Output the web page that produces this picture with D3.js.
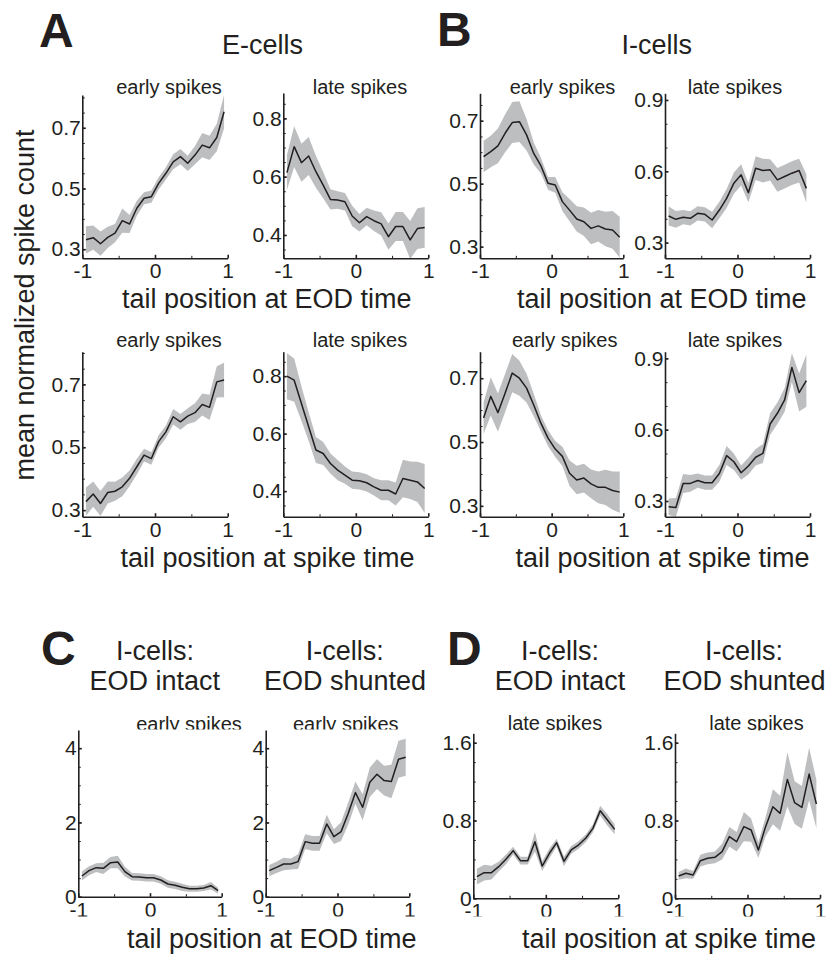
<!DOCTYPE html>
<html>
<head>
<meta charset="utf-8">
<script src="https://cdn.jsdelivr.net/npm/d3@7"></script>
<style>
  body { margin: 0; background: #fff; }
  svg { display: block; }
  text { font-family: "Liberation Sans", Arial, sans-serif; fill: #231f20; }
</style>
</head>
<body>
<svg id="chart" width="836" height="955"></svg>
<script>
// tail position bins (centres)
const tailPos = [-0.95,-0.85,-0.75,-0.65,-0.55,-0.45,-0.35,-0.25,-0.15,-0.05,0.05,0.15,0.25,0.35,0.45,0.55,0.65,0.75,0.85,0.95];

// A: E-cells, tail position at EOD time
const eEarlyEod    = [0.331,0.338,0.318,0.339,0.353,0.394,0.383,0.435,0.468,0.473,0.517,0.550,0.588,0.605,0.583,0.610,0.643,0.634,0.668,0.753];
const eEarlyEodSem = [0.045,0.04,0.04,0.035,0.03,0.04,0.03,0.025,0.02,0.02,0.02,0.02,0.025,0.025,0.025,0.03,0.04,0.04,0.045,0.055];
const eLateEod     = [0.614,0.703,0.648,0.671,0.617,0.571,0.522,0.520,0.514,0.465,0.442,0.463,0.449,0.438,0.394,0.429,0.429,0.383,0.422,0.426];
const eLateEodSem  = [0.06,0.07,0.065,0.065,0.055,0.045,0.035,0.03,0.03,0.035,0.03,0.03,0.035,0.04,0.045,0.05,0.05,0.065,0.07,0.07];

// B: I-cells, tail position at EOD time
const iEarlyEod    = [0.586,0.602,0.620,0.660,0.694,0.697,0.655,0.596,0.557,0.501,0.496,0.443,0.416,0.388,0.379,0.358,0.366,0.356,0.353,0.330];
const iEarlyEodSem = [0.05,0.05,0.055,0.06,0.065,0.065,0.05,0.035,0.025,0.02,0.025,0.03,0.035,0.04,0.045,0.05,0.05,0.055,0.06,0.065];
const iLateEod     = [0.412,0.398,0.407,0.402,0.423,0.419,0.395,0.437,0.486,0.550,0.585,0.510,0.613,0.603,0.606,0.564,0.578,0.592,0.603,0.528];
const iLateEodSem  = [0.04,0.035,0.03,0.03,0.03,0.03,0.035,0.035,0.04,0.045,0.045,0.04,0.05,0.05,0.045,0.05,0.05,0.05,0.05,0.06];

// A: E-cells, tail position at spike time
const eEarlySpike    = [0.327,0.351,0.321,0.356,0.360,0.374,0.401,0.438,0.475,0.464,0.518,0.549,0.597,0.581,0.599,0.610,0.636,0.627,0.708,0.714];
const eEarlySpikeSem = [0.045,0.04,0.04,0.035,0.03,0.03,0.025,0.025,0.02,0.02,0.02,0.02,0.025,0.025,0.025,0.03,0.035,0.04,0.05,0.055];
const eLateSpike     = [0.800,0.786,0.705,0.624,0.543,0.531,0.496,0.473,0.456,0.438,0.436,0.429,0.415,0.403,0.403,0.390,0.444,0.438,0.432,0.409];
const eLateSpikeSem  = [0.08,0.075,0.06,0.05,0.045,0.04,0.035,0.035,0.03,0.03,0.03,0.03,0.03,0.035,0.035,0.04,0.065,0.065,0.07,0.085];

// B: I-cells, tail position at spike time
const iEarlySpike    = [0.575,0.643,0.592,0.653,0.716,0.700,0.669,0.616,0.559,0.512,0.478,0.455,0.402,0.381,0.387,0.369,0.358,0.358,0.348,0.343];
const iEarlySpikeSem = [0.05,0.06,0.06,0.06,0.06,0.055,0.045,0.035,0.025,0.025,0.025,0.03,0.04,0.045,0.045,0.045,0.05,0.055,0.06,0.065];
const iLateSpike     = [0.276,0.273,0.374,0.374,0.386,0.377,0.377,0.416,0.491,0.465,0.419,0.447,0.484,0.500,0.624,0.669,0.725,0.862,0.756,0.806];
const iLateSpikeSem  = [0.035,0.04,0.04,0.035,0.03,0.03,0.03,0.035,0.04,0.035,0.03,0.035,0.035,0.04,0.045,0.045,0.05,0.06,0.08,0.11];

// C: I-cells early spikes vs tail at EOD time, intact / shunted
const intactEarlyEod     = [0.557,0.701,0.782,0.764,0.917,0.935,0.674,0.539,0.530,0.512,0.512,0.449,0.342,0.306,0.252,0.216,0.216,0.234,0.297,0.162];
const intactEarlyEodSem  = [0.12,0.12,0.12,0.15,0.15,0.17,0.13,0.1,0.1,0.1,0.1,0.1,0.1,0.1,0.1,0.08,0.08,0.08,0.1,0.08];
const shuntedEarlyEod    = [0.701,0.791,0.881,0.881,0.944,1.483,1.438,1.438,1.960,1.618,1.753,2.247,2.804,2.409,3.083,3.299,3.128,3.101,3.703,3.757];
const shuntedEarlyEodSem = [0.15,0.15,0.17,0.15,0.2,0.2,0.2,0.2,0.25,0.2,0.25,0.3,0.3,0.35,0.4,0.4,0.4,0.45,0.5,0.5];

// D: I-cells late spikes vs tail at spike time, intact / shunted
const intactLateSpike     = [0.223,0.264,0.264,0.325,0.401,0.490,0.387,0.387,0.582,0.332,0.463,0.572,0.380,0.497,0.548,0.617,0.719,0.901,0.805,0.709];
const intactLateSpikeSem  = [0.08,0.08,0.07,0.05,0.05,0.04,0.04,0.04,0.1,0.05,0.05,0.04,0.05,0.04,0.04,0.04,0.04,0.05,0.06,0.05];
const shuntedLateSpike    = [0.230,0.257,0.240,0.387,0.411,0.421,0.480,0.634,0.582,0.737,0.702,0.497,0.737,0.942,0.874,1.223,0.983,0.935,1.278,0.970];
const shuntedLateSpikeSem = [0.04,0.05,0.04,0.06,0.06,0.06,0.08,0.1,0.1,0.15,0.12,0.08,0.1,0.18,0.18,0.28,0.22,0.22,0.27,0.25];

const xTicks = [-1, 0, 1];
const xMinor = [-0.5, 0.5];

const ink = "#231f20";
const bandColor = "#bcbec0";
const font = 27;

const svg = d3.select("#chart");

// one entry per small axes: where it sits and what it shows
const panels = [
  {mean: eEarlyEod, sem: eEarlyEodSem, l: 82.3, r: 227.7, t: 95, b: 258.3, dom: [0.27, 0.808], ticks: [0.3, 0.5, 0.7], minor: 0.05, sub: "early spikes", subX: 169, subY: 94},
  {mean: eLateEod, sem: eLateEodSem, l: 283.3, r: 428.3, t: 93, b: 258.3, dom: [0.32, 0.887], ticks: [0.4, 0.6, 0.8], minor: 0.05, sub: "late spikes", subX: 360, subY: 94},
  {mean: iEarlyEod, sem: iEarlyEodSem, l: 480, r: 623.3, t: 93.3, b: 258.3, dom: [0.263, 0.787], ticks: [0.3, 0.5, 0.7], minor: 0.05, sub: "early spikes", subX: 562.5, subY: 94},
  {mean: iLateEod, sem: iLateEodSem, l: 665, r: 810, t: 93.3, b: 258.3, dom: [0.234, 0.928], ticks: [0.3, 0.6, 0.9], minor: 0.1, sub: "late spikes", subX: 735, subY: 94},
  {mean: eEarlySpike, sem: eEarlySpikeSem, l: 82.3, r: 227.7, t: 351.7, b: 516.7, dom: [0.279, 0.804], ticks: [0.3, 0.5, 0.7], minor: 0.05, sub: "early spikes", subX: 169, subY: 347},
  {mean: eLateSpike, sem: eLateSpikeSem, l: 283.3, r: 428.3, t: 351.7, b: 516.7, dom: [0.311, 0.885], ticks: [0.4, 0.6, 0.8], minor: 0.05, sub: "late spikes", subX: 360, subY: 347},
  {mean: iEarlySpike, sem: iEarlySpikeSem, l: 480, r: 623.3, t: 351.7, b: 516.7, dom: [0.266, 0.783], ticks: [0.3, 0.5, 0.7], minor: 0.05, sub: "early spikes", subX: 564.7, subY: 347},
  {mean: iLateSpike, sem: iLateSpikeSem, l: 665, r: 810, t: 351.7, b: 516.7, dom: [0.234, 0.928], ticks: [0.3, 0.6, 0.9], minor: 0.1, sub: "late spikes", subX: 735, subY: 347},
  {mean: intactEarlyEod, sem: intactEarlyEodSem, l: 78.3, r: 221.7, t: 730, b: 896.7, dom: [0, 4.49], ticks: [0, 2, 4], minor: 0.5, sub: "early spikes", subX: 189, subY: 731, clip: 729.5, xclip: 916.5},
  {mean: shuntedEarlyEod, sem: shuntedEarlyEodSem, l: 265.7, r: 409.3, t: 730, b: 896.7, dom: [0, 4.49], ticks: [0, 2, 4], minor: 0.5, sub: "early spikes", subX: 345.8, subY: 731, clip: 729.5, xclip: 916.5},
  {mean: intactLateSpike, sem: intactLateSpikeSem, l: 473.3, r: 618.3, t: 733.3, b: 898.3, dom: [0, 1.697], ticks: [0, 0.8, 1.6], minor: 0.2, sub: "late spikes", subX: 555, subY: 729.5, clip: 730.5, xclip: 916.5},
  {mean: shuntedLateSpike, sem: shuntedLateSpikeSem, l: 675, r: 820, t: 733.3, b: 898.3, dom: [0, 1.697], ticks: [0, 0.8, 1.6], minor: 0.2, sub: "late spikes", subX: 756.5, subY: 729.5, clip: 730.5, xclip: 916.5}
];

const defs = svg.append("defs");

panels.forEach((p, i) => {
  const x = d3.scaleLinear().domain([-1, 1]).range([p.l, p.r]);
  const y = d3.scaleLinear().domain(p.dom).range([p.b, p.t]);
  const g = svg.append("g");

  const pts = tailPos.map((v, k) => ({x: v, m: p.mean[k], s: p.sem[k]}));

  g.append("path")
    .datum(pts)
    .attr("fill", bandColor)
    .attr("d", d3.area().x(d => x(d.x)).y0(d => y(d.m - d.s)).y1(d => y(d.m + d.s)));

  g.append("path")
    .datum(pts)
    .attr("fill", "none")
    .attr("stroke", ink)
    .attr("stroke-width", 1.5)
    .attr("stroke-linejoin", "round")
    .attr("d", d3.line().x(d => x(d.x)).y(d => y(d.m)));

  // minor ticks first, then the main axes on top
  const yMinor = d3.range(Math.ceil(p.dom[0] / p.minor) * p.minor, p.dom[1] + 1e-9, p.minor);
  g.append("g")
    .attr("transform", `translate(${p.l},0)`)
    .call(d3.axisLeft(y).tickValues(yMinor).tickSize(-2.5).tickSizeOuter(0).tickFormat(""))
    .call(a => a.select(".domain").remove());
  g.append("g")
    .attr("transform", `translate(0,${p.b})`)
    .call(d3.axisBottom(x).tickValues(xMinor).tickSize(-2.5).tickSizeOuter(0).tickFormat(""))
    .call(a => a.select(".domain").remove());

  const yAxis = g.append("g")
    .attr("transform", `translate(${p.l},0)`)
    .call(d3.axisLeft(y).tickValues(p.ticks).tickSize(-3.5).tickSizeOuter(0).tickPadding(1.5).tickFormat(d => String(d)));
  const xAxis = g.append("g")
    .attr("transform", `translate(0,${p.b})`)
    .call(d3.axisBottom(x).tickValues(xTicks).tickSize(-3.5).tickSizeOuter(0).tickPadding(5).tickFormat(d => String(d)));

  [yAxis, xAxis].forEach(a => {
    a.selectAll("path, line").attr("stroke", ink).attr("stroke-width", 1.6);
    a.selectAll("text").attr("font-size", 21).attr("fill", ink)
      .style("font-family", '"Liberation Sans", Arial, sans-serif');
  });
  g.selectAll("line").attr("stroke", ink);

  // bottom row: tick numbers under the x axis are cut off a little in the original
  if (p.xclip) {
    defs.append("clipPath").attr("id", `xclip${i}`)
      .append("rect").attr("x", -20).attr("y", 0).attr("width", 900).attr("height", p.xclip - p.b);
    xAxis.selectAll(".tick text").attr("clip-path", `url(#xclip${i})`);
  }

  const sub = g.append("text")
    .attr("x", p.subX)
    .attr("y", p.subY)
    .attr("text-anchor", "middle")
    .attr("font-size", 20)
    .text(p.sub);
  if (p.clip) {
    defs.append("clipPath").attr("id", `subclip${i}`)
      .append("rect").attr("x", p.subX - 80).attr("y", p.subY - 30).attr("width", 160).attr("height", p.clip - (p.subY - 30));
    sub.attr("clip-path", `url(#subclip${i})`);
  }
});

// panel letters
const letters = [["A", 39, 46.7], ["B", 437, 46], ["C", 41, 665], ["D", 447, 665]];
svg.selectAll("text.letter")
  .data(letters)
  .join("text")
  .attr("class", "letter")
  .attr("x", d => d[1])
  .attr("y", d => d[2])
  .attr("font-size", 48)
  .attr("font-weight", "bold")
  .text(d => d[0]);

// titles and axis labels
const labels = [
  ["E-cells", 262.5, 54.3],
  ["I-cells", 656.7, 54],
  ["tail position at EOD time", 266.7, 308],
  ["tail position at EOD time", 661.7, 308],
  ["tail position at spike time", 267.5, 566.7],
  ["tail position at spike time", 662.5, 566.7],
  ["I-cells:", 155, 660],
  ["EOD intact", 154.7, 690],
  ["I-cells:", 344.7, 660],
  ["EOD shunted", 345, 690],
  ["I-cells:", 560, 660],
  ["EOD intact", 560, 690],
  ["I-cells:", 744, 660],
  ["EOD shunted", 744.5, 690],
  ["tail position at EOD time", 271.7, 948],
  ["tail position at spike time", 669, 948]
];
svg.selectAll("text.lab")
  .data(labels)
  .join("text")
  .attr("class", "lab")
  .attr("x", d => d[1])
  .attr("y", d => d[2])
  .attr("text-anchor", "middle")
  .attr("font-size", font)
  .text(d => d[0]);

svg.append("text")
  .attr("transform", "translate(34,305) rotate(-90)")
  .attr("text-anchor", "middle")
  .attr("font-size", font)
  .text("mean normalized spike count");
</script>
</body>
</html>
